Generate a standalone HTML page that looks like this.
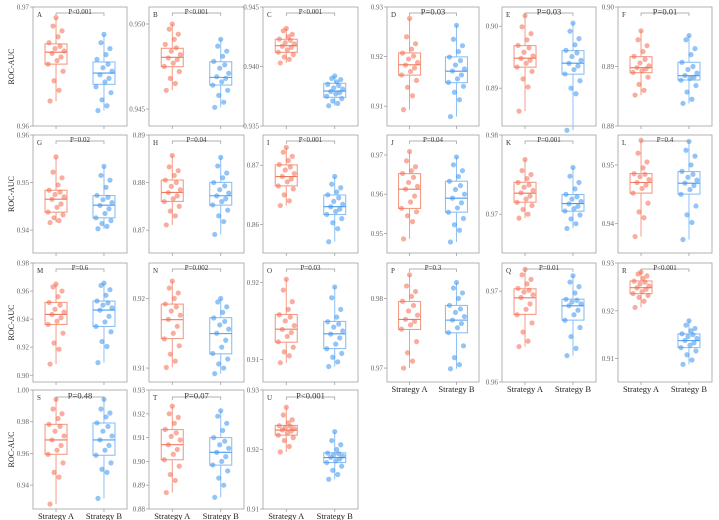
<!DOCTYPE html>
<html><head><meta charset="utf-8"><style>
html,body{margin:0;padding:0;background:#fff;}
svg{display:block;font-family:"Liberation Serif",serif;}
</style></head><body>
<svg id="fig" width="719" height="520" viewBox="0 0 719 520" xmlns="http://www.w3.org/2000/svg"></svg>
<script>
const panelLabels = ['A','B','C','D','E','F','G','H','I','J','K','L','M','N','O','P','Q','R','S','T','U'];
const pTexts = ['P<0.001','P<0.001','P<0.001','P=0.03','P=0.03','P=0.01','P=0.02','P=0.04','P<0.001','P=0.04','P=0.001','P=0.4','P=0.6','P=0.002','P=0.03','P=0.3','P=0.01','P<0.001','P=0.48','P=0.07','P<0.001'];
const yMins = [0.96,0.944,0.935,0.906,0.8839,0.88,0.9352,0.8652,0.8552,0.945,0.9651,0.935,0.8952,0.908,0.9071,0.968,0.96,0.9051,0.9249,0.88,0.91];
const yMaxs = [0.97,0.951,0.945,0.930,0.9031,0.90,0.96,0.89,0.8751,0.9751,0.98,0.9551,0.98,0.9251,0.9225,0.9851,0.9731,0.93,1.0,0.93,0.93];
const tickVals = [[0.96,0.97],[0.945,0.950],[0.935,0.940,0.945],[0.91,0.92,0.93],[0.89,0.90],[0.88,0.89,0.90],[0.94,0.95,0.96],[0.87,0.88,0.89],[0.86,0.87],[0.95,0.96,0.97],[0.97,0.98],[0.94,0.95],[0.90,0.92,0.94,0.96,0.98],[0.91,0.92],[0.91,0.92],[0.97,0.98],[0.96,0.97],[0.91,0.92,0.93],[0.94,0.96,0.98,1.00],[0.88,0.89,0.90,0.91,0.92,0.93],[0.91,0.92,0.93]];
const tickDecimals = [2,3,3,2,2,2,2,2,2,2,2,2,2,2,2,2,2,2,2,2,2];
const boxA = [[.9652,.9662,.9669],[.94749,.94804,.94857],[.94119,.94175,.94229],[.91626,.91834,.92074],[.89339,.89484,.89687],[.88896,.8898,.89165],[.94378,.9465,.94839],[.87604,.87793,.88053],[.86652,.86809,.87006],[.95636,.96127,.96525],[.97151,.97265,.97403],[.9452,.94701,.94853],[.93619,.94333,.9519],[.91424,.91695,.91919],[.91225,.91394,.91584],[.97555,.97699,.97957],[.96744,.96927,.97026],[.92359,.92484,.92624],[.95944,.96846,.97832],[.9007,.90704,.91338],[.92242,.92326,.92404]];
const boxB = [[.9635,.96445,.96538],[.94641,.94686,.94778],[.93741,.93794,.93859],[.91474,.91706,.91994],[.89226,.89403,.89606],[.88773,.88846,.89071],[.94259,.94524,.94727],[.87526,.87723,.88004],[.86169,.86301,.86498],[.95542,.95898,.96331],[.97038,.97134,.97248],[.94503,.94689,.94887],[.93476,.94643,.95286],[.91205,.91495,.91724],[.91143,.91333,.91494],[.97507,.97689,.979],[.96681,.96839,.96912],[.9123,.91376,.91516],[.95881,.96846,.97916],[.89845,.9038,.91],[.91781,.91865,.91944]];
const ptsA = [
[.9621,.9630,.9638,.9646,.9652,.9655,.9658,.9661,.9663,.9665,.9667,.9670,.9675,.9680,.9684,.9691],
[.9461,.9465,.9468,.9472,.9475,.9477,.9479,.9480,.9482,.9484,.9486,.9488,.9491,.9494,.9497,.9500],
[.9403,.9406,.9408,.9410,.9412,.9414,.9416,.9417,.9419,.9420,.9422,.9423,.9425,.9427,.9430,.9432],
[.9093,.9121,.9138,.9152,.9163,.9170,.9177,.9183,.9188,.9195,.9201,.9207,.9215,.9226,.9240,.9277],
[.8863,.8902,.8915,.8927,.8934,.8940,.8945,.8948,.8952,.8958,.8965,.8969,.8978,.8988,.8999,.9017],
[.8852,.8860,.8870,.8882,.8890,.8893,.8896,.8898,.8901,.8906,.8912,.8917,.8925,.8935,.8945,.8960],
[.9416,.9420,.9426,.9432,.9438,.9448,.9455,.9465,.9470,.9475,.9480,.9484,.9495,.9510,.9522,.9554],
[.8711,.8730,.8740,.8750,.8760,.8766,.8772,.8779,.8785,.8792,.8800,.8805,.8815,.8825,.8833,.8857],
[.8632,.8640,.8650,.8660,.8665,.8672,.8677,.8681,.8686,.8692,.8697,.8701,.8708,.8715,.8722,.8730],
[.9486,.9530,.9545,.9555,.9564,.9580,.9595,.9613,.9620,.9630,.9643,.9653,.9660,.9670,.9685,.9709],
[.9695,.9700,.9706,.9711,.9715,.9719,.9723,.9727,.9730,.9734,.9737,.9740,.9745,.9750,.9755,.9769],
[.9378,.9410,.9420,.9435,.9452,.9460,.9466,.9470,.9475,.9480,.9484,.9485,.9495,.9505,.9520,.9542],
[.9080,.9186,.9230,.9300,.9362,.9385,.9410,.9433,.9450,.9470,.9500,.9519,.9560,.9600,.9630,.9650],
[.9101,.9110,.9120,.9132,.9142,.9150,.9160,.9170,.9176,.9182,.9188,.9192,.9200,.9208,.9215,.9225],
[.9096,.9105,.9110,.9116,.9123,.9130,.9135,.9139,.9144,.9150,.9155,.9158,.9165,.9175,.9190,.9204],
[.9700,.9710,.9722,.9738,.9756,.9762,.9767,.9770,.9776,.9782,.9790,.9796,.9803,.9810,.9818,.9834],
[.9639,.9645,.9655,.9665,.9674,.9680,.9686,.9693,.9696,.9699,.9701,.9703,.9708,.9713,.9718,.9724],
[.9207,.9220,.9228,.9232,.9236,.9240,.9245,.9248,.9252,.9256,.9260,.9262,.9268,.9273,.9277,.9281],
[.9280,.9450,.9480,.9540,.9594,.9620,.9650,.9685,.9710,.9740,.9770,.9783,.9820,.9850,.9880,.9941],
[.8869,.8920,.8945,.8980,.9007,.9030,.9050,.9070,.9090,.9105,.9120,.9134,.9160,.9185,.9200,.9232],
[.9196,.9205,.9215,.9220,.9224,.9228,.9231,.9233,.9235,.9237,.9239,.9240,.9245,.9250,.9258,.9271]];
const ptsB = [
[.9613,.9617,.9622,.9628,.9633,.9637,.9640,.9643,.9646,.9649,.9652,.9656,.9660,.9665,.9670,.9677],
[.9451,.9454,.9458,.9461,.9464,.9466,.9468,.9469,.9471,.9474,.9476,.9478,.9481,.9484,.9487,.9491],
[.9367,.9369,.9371,.9373,.9375,.9377,.9378,.9379,.9381,.9382,.9384,.9385,.9387,.9389,.9390,.9392],
[.9079,.9113,.9128,.9140,.9148,.9155,.9163,.9171,.9175,.9183,.9192,.9199,.9210,.9222,.9235,.9263],
[.8832,.8891,.8900,.8912,.8923,.8930,.8936,.8940,.8945,.8951,.8957,.8961,.8970,.8980,.8992,.9005],
[.8838,.8845,.8857,.8868,.8877,.8880,.8882,.8885,.8889,.8895,.8900,.8907,.8920,.8930,.8945,.8952],
[.9403,.9408,.9414,.9420,.9426,.9435,.9445,.9452,.9458,.9464,.9469,.9473,.9490,.9505,.9515,.9534],
[.8691,.8718,.8730,.8742,.8753,.8760,.8766,.8772,.8778,.8785,.8793,.8800,.8810,.8820,.8835,.8853],
[.8571,.8593,.8603,.8610,.8617,.8622,.8626,.8630,.8634,.8639,.8645,.8650,.8655,.8662,.8668,.8681],
[.9478,.9508,.9522,.9538,.9554,.9565,.9578,.9590,.9600,.9612,.9622,.9633,.9645,.9660,.9675,.9695],
[.9682,.9688,.9694,.9699,.9704,.9707,.9710,.9713,.9716,.9719,.9722,.9725,.9732,.9740,.9748,.9759],
[.9373,.9402,.9415,.9430,.9450,.9458,.9465,.9469,.9474,.9479,.9484,.9489,.9500,.9515,.9525,.9540],
[.9090,.9205,.9240,.9310,.9348,.9380,.9420,.9464,.9480,.9500,.9515,.9529,.9570,.9610,.9640,.9657],
[.9092,.9100,.9106,.9113,.9121,.9130,.9140,.9150,.9156,.9162,.9167,.9172,.9180,.9188,.9195,.9200],
[.9091,.9097,.9103,.9108,.9114,.9120,.9128,.9133,.9137,.9142,.9146,.9149,.9155,.9165,.9180,.9194],
[.9699,.9705,.9715,.9732,.9751,.9758,.9764,.9769,.9774,.9780,.9785,.9790,.9800,.9808,.9815,.9823],
[.9629,.9637,.9650,.9660,.9668,.9674,.9679,.9684,.9686,.9688,.9690,.9691,.9698,.9705,.9710,.9717],
[.9088,.9097,.9108,.9116,.9123,.9128,.9133,.9138,.9142,.9146,.9150,.9152,.9158,.9163,.9170,.9179],
[.9316,.9480,.9500,.9540,.9588,.9620,.9650,.9685,.9710,.9740,.9770,.9792,.9830,.9855,.9880,.9941],
[.8849,.8900,.8930,.8960,.8985,.9000,.9020,.9038,.9055,.9070,.9085,.9100,.9130,.9160,.9190,.9213],
[.9150,.9158,.9165,.9172,.9178,.9181,.9184,.9187,.9189,.9191,.9193,.9194,.9200,.9208,.9215,.9230]];
const categories = ['Strategy A','Strategy B'];

const colX = [[33,127],[149,244],[263,358],[387,479],[502,596],[618,712]];
const rowY = [[7,126],[135,253],[263,382],[390,509]];
const jit = [-6,3,-2,7,-8,1,5,-4,8,-1,4,-7,2,6,-3,0];
const NS = 'http://www.w3.org/2000/svg';
const svg = document.getElementById('fig');
function mk(tag, attrs, parent){
  const e = document.createElementNS(NS, tag);
  for (const k in attrs) e.setAttribute(k, attrs[k]);
  (parent||svg).appendChild(e);
  return e;
}
const colors = [
  {pt:'#f46a4e', box:'#f59c86', med:'#f07a60'},
  {pt:'#3d93ee', box:'#8cc0f4', med:'#4a9cf0'}
];
panelLabels.forEach((lab, i) => {
  const r = Math.floor(i/6), c = i%6;
  const [x0,x1] = colX[c], [y0,y1] = rowY[r];
  const g = mk('g', {});
  
  
  const ys = v => y1 - (v - yMins[i]) / (yMaxs[i] - yMins[i]) * (y1 - y0);
  const w = x1 - x0;
  const cx = [x0 + w*0.245, x0 + w*0.755];
  const fr = mk('rect', {x:x0, y:y0, width:w, height:y1-y0, fill:'none', stroke:'#a0a0a0', 'stroke-width':0.8}, g);
  
  
  // y ticks
  tickVals[i].forEach(tv => {
    const y = ys(tv);
    mk('line', {x1:x0-3, x2:x0, y1:y, y2:y, stroke:'#a0a0a0', 'stroke-width':0.8}, g);
    const t = mk('text', {x:x0-4, y:y+2.5, 'font-size':7, fill:'#666', 'text-anchor':'end'}, g);
    t.textContent = tv.toFixed(tickDecimals[i]);
    
    
  });
  // x ticks
  cx.forEach(x => mk('line', {x1:x, x2:x, y1:y1, y2:y1+3, stroke:'#a0a0a0', 'stroke-width':0.8}, g));
  // panel letter
  const pl = mk('text', {x:x0+4, y:y0+10, 'font-size':7, fill:'#333'}, g);
  pl.textContent = lab;
  
  
  // boxes
  [boxA[i], boxB[i]].forEach((bx, k) => {
    const pts = k === 0 ? ptsA[i] : ptsB[i];
    const col = colors[k];
    const lo = Math.min(...pts), hi = Math.max(...pts);
    const bw = 22;
    const wl = mk('line', {x1:cx[k], x2:cx[k], y1:ys(lo), y2:ys(hi), stroke:col.box, 'stroke-width':1}, g);
    
    
    const rb = mk('rect', {x:cx[k]-bw/2, y:ys(bx[2]), width:bw, height:ys(bx[0])-ys(bx[2]), fill:'#fff', stroke:col.box, 'stroke-width':1.1}, g);
    
    
    const ml = mk('line', {x1:cx[k]-bw/2, x2:cx[k]+bw/2, y1:ys(bx[1]), y2:ys(bx[1]), stroke:col.med, 'stroke-width':1.1}, g);
    
    
    pts.forEach((v, j) => {
      const p = mk('circle', {cx:cx[k]+jit[j%jit.length], cy:ys(v), r:2.6, fill:col.pt, 'fill-opacity':0.55}, g);
      
      
    });
  });
  // bracket
  const by = r === 3 ? y0+7 : y0+6;
  const br = mk('path', {d:`M${cx[0]} ${by+3}V${by}H${cx[1]}V${by+3}`, fill:'none', stroke:'#999', 'stroke-width':0.7}, g);
  
  
  const big = (r === 3) || (r === 0 && c >= 3);
  const pt = mk('text', {x:(cx[0]+cx[1])/2, y:by+(big?1.5:1), 'font-size':big?8.5:7, fill:'#333', 'text-anchor':'middle'}, g);
  pt.textContent = pTexts[i];
  
  
  // category labels
  if (r === 3 || (r === 2 && c >= 3)) {
    categories.forEach((cat, k) => {
      const t = mk('text', {x:cx[k], y:y1+10, 'font-size':8.5, fill:'#222', 'text-anchor':'middle'}, g);
      t.textContent = cat;
      
      
    });
  }
  // y axis title
  if (c === 0) {
    const ym = (y0+y1)/2;
    const t = mk('text', {x:14, y:ym, 'font-size':8, fill:'#222', 'text-anchor':'middle', transform:`rotate(-90 14 ${ym})`}, g);
    t.textContent = 'ROC-AUC';
    
    
  }
});
</script>
</body></html>
